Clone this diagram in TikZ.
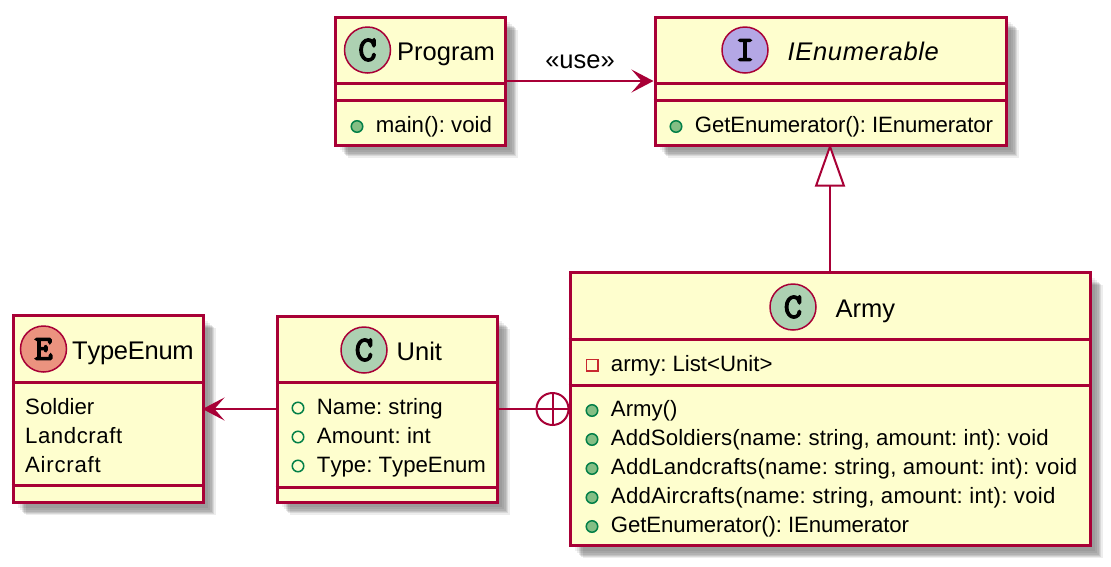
\documentclass[tikz,border=0pt]{standalone}
\usepackage{fontspec}
\setmainfont[Kerning=Off]{Liberation Sans}
\newfontfamily\spacedsans[LetterSpace=2.6,Kerning=Off]{Liberation Sans}
\newfontfamily\spotfont[FakeBold=4.5]{Latin Modern Mono}
\frenchspacing
\usetikzlibrary{positioning,arrows.meta,shadows}
\definecolor{umlred}{HTML}{A80036}
\definecolor{umlfill}{HTML}{FEFECE}
\definecolor{spotc}{HTML}{ADD1B2}
\definecolor{spoti}{HTML}{B4A7E5}
\definecolor{spote}{HTML}{EB937F}
\definecolor{dotfill}{HTML}{84BE84}
\definecolor{dotedge}{HTML}{038048}
\definecolor{privedge}{HTML}{C82930}
\tikzset{
  softshadow/.style={
    drop shadow={shadow xshift=5pt,shadow yshift=-5pt,fill=black,opacity=.06},
    drop shadow={shadow xshift=7pt,shadow yshift=-7pt,fill=black,opacity=.07},
    drop shadow={shadow xshift=9pt,shadow yshift=-9pt,fill=black,opacity=.09},
    drop shadow={shadow xshift=10pt,shadow yshift=-10pt,fill=black,opacity=.09},
    drop shadow={shadow xshift=11pt,shadow yshift=-11pt,fill=black,opacity=.09},
    drop shadow={shadow xshift=12.5pt,shadow yshift=-12.5pt,fill=black,opacity=.07}},
  classbox/.style={draw=umlred, rectangle, line width=3pt, fill=umlfill, inner sep=0pt, softshadow},
  divline/.style={draw=umlred, line width=3pt},
  spot/.style={draw=umlred, circle, line width=1.5pt, minimum size=46pt, inner sep=0pt, outer sep=0pt,
    font=\spotfont\fontsize{35}{35}\selectfont},
  classname/.style={inner sep=0pt, text height=24pt, text depth=4pt, font=\fontsize{25.5}{28}\selectfont},
  member/.style={inner sep=0pt, text height=17.5pt, text depth=5pt, font=\fontsize{22.2}{26}\selectfont},
  wider/.style={font=\fontsize{22.2}{26}\selectfont\addfontfeature{LetterSpace=#1}},
  pubmethod/.style={draw=dotedge, fill=dotfill, circle, line width=1.5pt, minimum size=11.5pt, inner sep=0pt, outer sep=0pt},
  pubfield/.style={draw=dotedge, circle, line width=1.5pt, minimum size=11.5pt, inner sep=0pt, outer sep=0pt},
  privfield/.style={draw=privedge, rectangle, line width=1.5pt, minimum size=11.5pt, inner sep=0pt, outer sep=0pt},
  relline/.style={draw=umlred, line width=2pt},
  usetip/.style={-{Stealth[length=22pt,width=23pt,inset=10pt]}},
  extendtip/.style={-{Triangle[length=43pt,width=30pt,fill=white]}, shorten >=-3pt}
}
\begin{document}
\begin{tikzpicture}[x=1pt, y=-1pt]
\useasboundingbox (0,0) rectangle (1111,566);
% the five boxes
\node (prog) [classbox, minimum width=170pt, minimum height=128pt] at (420,81) {};
\node (ienum) [classbox, minimum width=351pt, minimum height=128pt] at (830.5,81) {};
\node (army) [classbox, minimum width=520pt, minimum height=273pt] at (830,409) {};
\node (unit) [classbox, minimum width=220pt, minimum height=186pt] at (387,409) {};
\node (tenum) [classbox, minimum width=190pt, minimum height=187pt] at (108,409) {};
\draw[divline] ([yshift=-2pt]prog.west) -- ([yshift=-2pt]prog.east);
\draw[divline] ([yshift=-19pt]prog.west) -- ([yshift=-19pt]prog.east);
\draw[divline] ([yshift=-2pt]ienum.west) -- ([yshift=-2pt]ienum.east);
\draw[divline] ([yshift=-19pt]ienum.west) -- ([yshift=-19pt]ienum.east);
\draw[divline] ([yshift=69.3pt]army.west) -- ([yshift=69.3pt]army.east);
\draw[divline] ([yshift=23.7pt]army.west) -- ([yshift=23.7pt]army.east);
\draw[divline] ([yshift=27pt]unit.west) -- ([yshift=27pt]unit.east);
\draw[divline] ([yshift=-78pt]unit.west) -- ([yshift=-78pt]unit.east);
\draw[divline] ([yshift=27pt]tenum.west) -- ([yshift=27pt]tenum.east);
\draw[divline] ([yshift=-76.3pt]tenum.west) -- ([yshift=-76.3pt]tenum.east);
% headers
\node (progspot) [spot, fill=spotc] at (367.5,50) {C};
\node (progname) [classname, right=6.5pt of progspot] {Program};
\node (ienumspot) [spot, fill=spoti] at (745,50) {I};
\node (ienumname) [classname, right=19.5pt of ienumspot, font=\spacedsans\itshape\fontsize{25.5}{28}\selectfont] {IEnumerable};
\node (armyspot) [spot, fill=spotc] at (793,307) {C};
\node (armyname) [classname, right=19.5pt of armyspot] {Army};
\node (unitspot) [spot, fill=spotc] at (364,350) {C};
\node (unitname) [classname, right=9.5pt of unitspot] {Unit};
\node (tenumspot) [spot, fill=spote] at (43.5,349) {E};
\node (tenumname) [classname, right=5.5pt of tenumspot, font=\fontsize{25.5}{28}\selectfont\addfontfeature{LetterSpace=-1}] {TypeEnum};
% members
\node (progdot) [pubmethod] at (357,126.5) {};
\node (progm) [member, right=13pt of progdot] {main(): void};
\node (ienumdot) [pubmethod] at (676,126.5) {};
\node (ienumm) [member, wider=-.5, right=13pt of ienumdot] {GetEnumerator(): IEnumerator};
\node (armyfdot) [privfield] at (592,365) {};
\node (armyf) [member, right=13pt of armyfdot] {army: List<Unit>};
\node (armydota) [pubmethod] at (592,410.5) {};
\node (armyma) [member, right=13pt of armydota] {Army()};
\node (armydotb) [pubmethod] at (592,439.5) {};
\node (armymb) [member, wider=.7, right=13pt of armydotb] {AddSoldiers(name: string, amount: int): void};
\node (armydotc) [pubmethod] at (592,468.5) {};
\node (armymc) [member, wider=1.2, right=13pt of armydotc] {AddLandcrafts(name: string, amount: int): void};
\node (armydotd) [pubmethod] at (592,497.5) {};
\node (armymd) [member, wider=1.3, right=13pt of armydotd] {AddAircrafts(name: string, amount: int): void};
\node (armydote) [pubmethod] at (592,526.5) {};
\node (armyme) [member, wider=-.5, right=13pt of armydote] {GetEnumerator(): IEnumerator};
\node (unitdota) [pubfield] at (298,408) {};
\node (unitfa) [member, right=13pt of unitdota] {Name: string};
\node (unitdotb) [pubfield] at (298,437) {};
\node (unitfb) [member, wider=.8, right=13pt of unitdotb] {Amount: int};
\node (unitdotc) [pubfield] at (298,466) {};
\node (unitfc) [member, right=13pt of unitdotc] {Type: TypeEnum};
\node (tenuma) [member, anchor=west] at (25,408) {Soldier};
\node (tenumb) [member, wider=2.5, anchor=west] at (25,437) {Landcraft};
\node (tenumc) [member, wider=3.4, anchor=west] at (25,466) {Aircraft};
% relations
\draw[relline, usetip] (prog) -- node (uselabel) [above=11pt, inner sep=0pt, font=\fontsize{25.5}{28}\selectfont] {«use»} (ienum);
\draw[relline, extendtip] (army) -- (army |- ienum.south);
\draw[relline, usetip, shorten >=-2pt] (unit) -- (tenum);
\node (nest) [draw=umlred, circle, line width=2pt, minimum size=32pt, inner sep=0pt, outer sep=0pt, fill=white, left=0pt of army] {};
\draw[relline] (unit) -- (nest);
\draw[relline] (nest.north) -- (nest.south);
\draw[relline] (nest.west) -- (nest.east);
\end{tikzpicture}
\end{document}
